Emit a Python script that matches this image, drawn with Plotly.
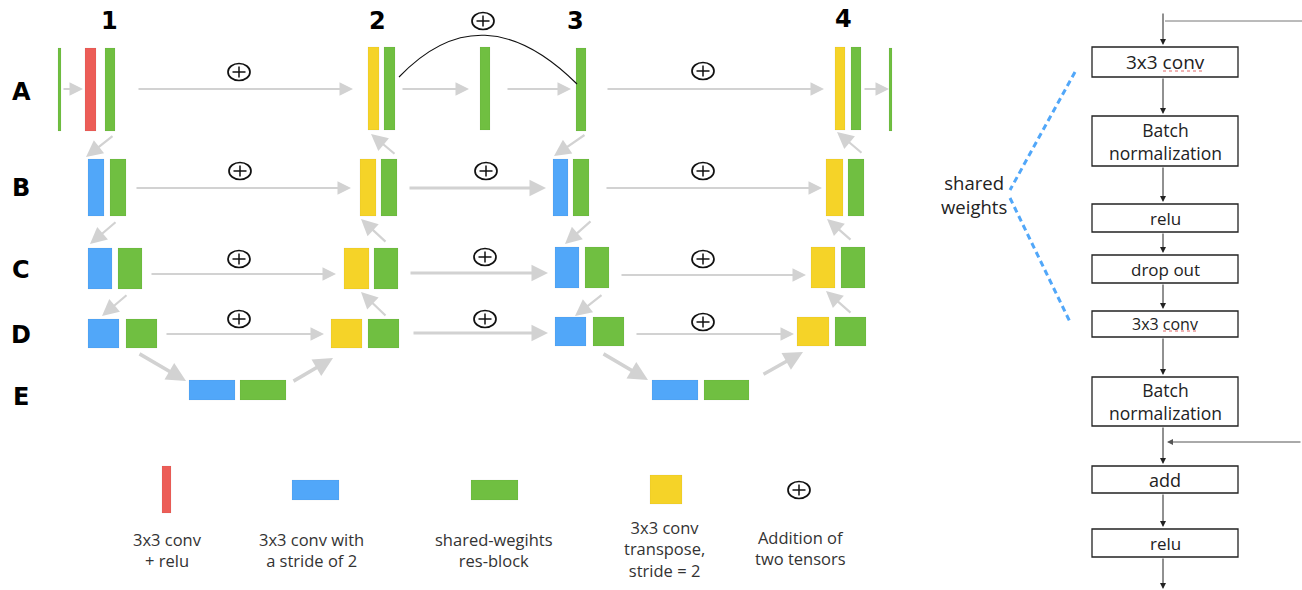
import plotly.graph_objects as go

# ---------------- content ----------------
col_labels = ["1", "2", "3", "4"]
row_labels = ["A", "B", "C", "D", "E"]
legend_labels = ["3x3 conv<br>+ relu", "3x3 conv with<br>a stride of 2",
                 "shared-wegihts<br>res-block", "3x3 conv<br>transpose,<br>stride = 2",
                 "Addition of<br>two tensors"]
flow_steps = ["3x3 conv", "Batch<br>normalization", "relu", "drop out",
              "3x3 conv", "Batch<br>normalization", "add", "relu"]
side_label = "shared<br>weights"

# ---------------- geometry / style ----------------
W, H = 1302, 590
RED, BLUE, GREEN, YELLOW = "#ec5d57", "#51a7f9", "#70bf41", "#f5d328"
ARROW = "#d2d2d2"
TXT = "#333333"
TEXT_FONT = "Open Sans"
BOLD_FONT = "DejaVu Sans"

col_pos = [(109, 21), (377, 21), (575, 21), (843, 19)]
row_pos = [(21, 92), (21, 188), (21, 270), (21, 335), (21, 397)]

color_of = {"r": RED, "b": BLUE, "g": GREEN, "y": YELLOW}
blocks = [
    # row A
    (58, 61, 48, 131, "g"), (85, 96, 48, 131, "r"), (105, 115, 48, 131, "g"),
    (368, 379, 47, 130, "y"), (384, 395, 47, 130, "g"), (480, 490, 47, 130, "g"),
    (576, 586, 48, 131, "g"), (835, 845, 47, 130, "y"), (851, 861, 47, 130, "g"),
    (889, 892, 48, 131, "g"),
    # row B
    (88, 104, 159, 216, "b"), (110, 126, 159, 216, "g"), (360, 376, 159, 216, "y"),
    (381, 397, 159, 216, "g"), (553, 568, 159, 216, "b"), (573, 589, 159, 216, "g"),
    (826, 843, 159, 216, "y"), (848, 864, 159, 216, "g"),
    # row C
    (88, 112, 248, 289, "b"), (118, 142, 248, 289, "g"), (344, 369, 248, 289, "y"),
    (374, 398, 248, 289, "g"), (555, 579, 247, 288, "b"), (585, 609, 247, 288, "g"),
    (811, 835, 247, 288, "y"), (841, 865, 247, 288, "g"),
    # row D
    (88, 119, 319, 348, "b"), (126, 157, 319, 348, "g"), (331, 362, 319, 348, "y"),
    (368, 399, 319, 348, "g"), (555, 586, 317, 346, "b"), (593, 624, 317, 346, "g"),
    (797, 829, 317, 346, "y"), (835, 866, 317, 346, "g"),
    # row E
    (189, 235, 380, 400, "b"), (240, 286, 380, 400, "g"),
    (652, 698, 380, 400, "b"), (704, 749, 380, 400, "g"),
]

# (tail x, tail y, head x, head y, width)
arrows = [
    (62, 89, 83, 89, 1.8), (137, 89, 353, 89, 1.8), (401, 89, 469, 89, 1.8),
    (506, 89, 571, 89, 1.8), (606, 89, 824, 89, 1.8), (863, 89, 889, 89, 1.8),
    (135, 188, 351, 188, 1.8), (408, 188, 546, 188, 3), (605, 188, 822, 188, 1.8),
    (150, 274, 336, 274, 1.8), (409, 273, 548, 273, 3), (620, 275, 806, 275, 1.8),
    (165, 334, 324, 334, 1.8), (412, 333, 548, 333, 3), (635, 334, 794, 334, 1.8),
    (114, 135, 86, 157, 2.2), (117, 221, 90, 244, 2.2), (128, 294, 102, 316, 2.2),
    (396, 155, 371, 134, 2.2), (387, 243, 361, 219, 2.2), (387, 317, 361, 292, 2.2),
    (586, 134, 554, 156, 2.2), (592, 220, 565, 244, 2.2), (603, 294, 575, 316, 2.2),
    (863, 154, 837, 132, 2.2), (852, 241, 827, 219, 2.2), (852, 314, 826, 291, 2.2),
    (138, 353, 186, 381, 3.5), (292, 382, 333, 358, 3.5),
    (602, 353, 648, 380, 3.5), (762, 375, 803, 352, 3.5),
]

plus_pos = [(239, 72), (483, 21), (703, 71), (240, 171), (486, 171), (703, 171),
            (239, 259), (485, 257), (703, 259), (239, 319), (485, 319), (703, 322),
            (799, 490)]

legend_blocks = [(162, 171, 466, 513, "r"), (292, 339, 480, 500, "b"),
                 (471, 518, 480, 500, "g"), (650, 682, 475, 504, "y")]
legend_x = [167, 311, 494, 664, 800]
legend_yc = [550, 550, 550, 549, 548]

BX0, BX1, BXC = 1092, 1238, 1163
flow_boxes = [(47, 77), (116, 166), (204, 232), (255, 283),
              (311, 337), (377, 426), (466, 493), (529, 557)]
flow_font = [19, 17.5, 17, 17, 16, 17.5, 18, 17]
flow_arrows = [(12, 45), (77, 114), (166, 202), (232, 253), (283, 309),
               (337, 375), (426, 464), (493, 527), (557, 589)]

fig = go.Figure()
shapes = []
annos = []


def add_text(x, y, text, size, color, family=TEXT_FONT):
    annos.append(dict(x=x, y=y, xref="x", yref="y", text=text, showarrow=False,
                      align="center", xanchor="center", yanchor="middle",
                      font=dict(family=family, size=size, color=color)))


# blocks
for x0, x1, y0, y1, c in blocks + legend_blocks:
    shapes.append(dict(type="rect", xref="x", yref="y", x0=x0, x1=x1, y0=y0, y1=y1,
                       fillcolor=color_of[c], line=dict(width=0.6, color="rgba(0,0,0,0.08)"),
                       layer="above"))

# gray arrows
for tx, ty, hx, hy, w in arrows:
    annos.append(dict(x=hx, y=hy, ax=tx, ay=ty, xref="x", yref="y", axref="x", ayref="y",
                      text="", showarrow=True, arrowhead=2,
                      arrowsize=1.5 if w < 2.5 else 1.1,
                      arrowwidth=w, arrowcolor=ARROW, standoff=0, startstandoff=0))

# arc between A2 and A3
shapes.append(dict(type="path", xref="x", yref="y",
                   path="M 399,77 Q 482,-10 577,84",
                   line=dict(color="#111111", width=1.1)))

# plus signs (slightly wide ellipses, as in the stretched original)
for cx, cy in plus_pos:
    shapes.append(dict(type="circle", xref="x", yref="y", x0=cx - 11, x1=cx + 11,
                       y0=cy - 8.5, y1=cy + 8.5, line=dict(color="#111111", width=1.7)))
    shapes.append(dict(type="line", xref="x", yref="y", x0=cx - 6.5, x1=cx + 6.5, y0=cy, y1=cy,
                       line=dict(color="#111111", width=1.5)))
    shapes.append(dict(type="line", xref="x", yref="y", x0=cx, x1=cx, y0=cy - 5.5, y1=cy + 5.5,
                       line=dict(color="#111111", width=1.5)))

# column / row labels
for lab, (x, y) in zip(col_labels + row_labels, col_pos + row_pos):
    add_text(x, y, "<b>%s</b>" % lab, 24, "#000000", BOLD_FONT)

# legend texts
for lab, x, yc in zip(legend_labels, legend_x, legend_yc):
    add_text(x, yc, lab, 16.5, TXT)

# right flow panel
for (y0, y1), lab, fs in zip(flow_boxes, flow_steps, flow_font):
    shapes.append(dict(type="rect", xref="x", yref="y", x0=BX0, x1=BX1, y0=y0, y1=y1,
                       fillcolor="white", line=dict(color="#222222", width=1.3)))
    add_text((BX0 + BX1) / 2, (y0 + y1) / 2, lab, fs, "#222222")
for y0, y1 in flow_arrows:
    annos.append(dict(x=BXC, y=y1, ax=BXC, ay=y0, xref="x", yref="y", axref="x", ayref="y",
                      text="", showarrow=True, arrowhead=2, arrowsize=1.2, arrowwidth=1,
                      arrowcolor="#222222", standoff=0))

# spell-check squiggles under "conv"
for x0, x1, y in [(1163, 1205, 71), (1163, 1199, 331)]:
    shapes.append(dict(type="line", xref="x", yref="y", x0=x0, x1=x1, y0=y, y1=y,
                       line=dict(color="#e06666", width=1, dash="dot")))

# skip connections
shapes.append(dict(type="line", xref="x", yref="y", x0=1165, x1=W, y0=21, y1=21,
                   line=dict(color="#777777", width=1)))
annos.append(dict(x=1167, y=442, ax=W, ay=442, xref="x", yref="y", axref="x", ayref="y",
                  text="", showarrow=True, arrowhead=2, arrowsize=1.2, arrowwidth=1,
                  arrowcolor="#555555", standoff=0))

# shared weights bracket
for x0, y0, x1, y1 in [(1075, 72, 1010, 190), (1010, 198, 1070, 322)]:
    shapes.append(dict(type="line", xref="x", yref="y", x0=x0, y0=y0, x1=x1, y1=y1,
                       line=dict(color=BLUE, width=3, dash="6px,4px")))
add_text(974, 194, side_label, 18.5, "#222222")

fig.update_layout(
    width=W, height=H, margin=dict(l=0, r=0, t=0, b=0),
    paper_bgcolor="white", plot_bgcolor="white",
    xaxis=dict(range=[0, W], visible=False, fixedrange=True),
    yaxis=dict(range=[H, 0], visible=False, fixedrange=True),
    shapes=shapes, annotations=annos, showlegend=False,
)

fig.write_html("out.html", config={"displayModeBar": False},
               post_script="document.body.style.margin='0';document.body.style.overflow='hidden';")
